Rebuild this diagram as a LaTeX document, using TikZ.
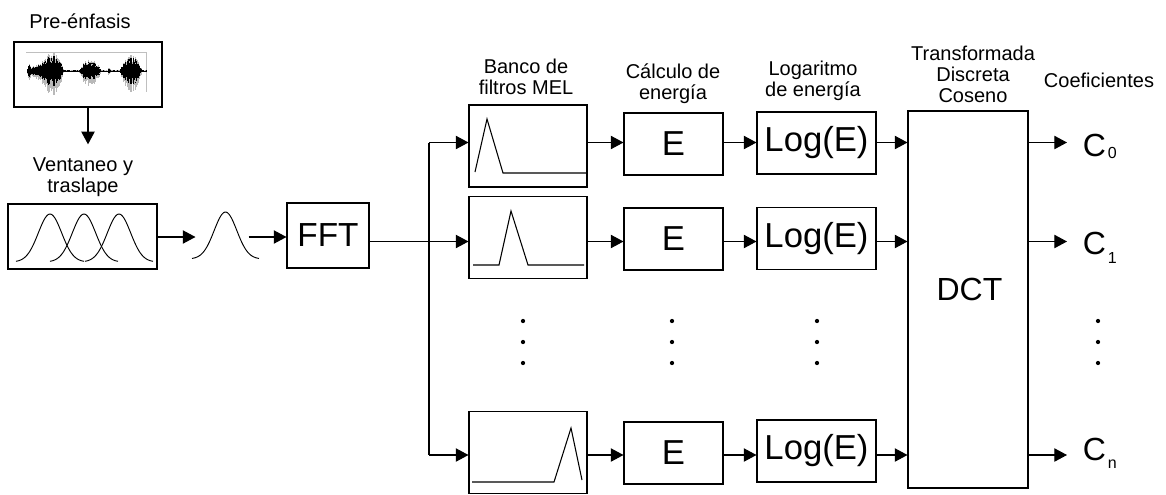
\documentclass[tikz,border=0pt]{standalone}
\usepackage{fontspec}
\setmainfont{Liberation Sans}
\usetikzlibrary{arrows.meta}

\begin{document}
\begin{tikzpicture}[x=0.75pt,y=-0.75pt,>={Triangle[length=9.5pt,width=10pt]},line width=0.8pt,
  blk/.style={draw,inner sep=0pt,font=\fontsize{26}{28}\selectfont},
  lbl/.style={align=center,inner sep=0pt,anchor=north,font=\fontsize{15}{16}\selectfont},
  coef/.style={anchor=base west,inner sep=0pt,inner xsep=11.5pt,font=\fontsize{24}{24}\selectfont},
  filt/.style={blk,minimum width=88.5pt,minimum height=61.5pt},
  ebox/.style={blk,minimum width=74.25pt,minimum height=46.5pt},
  logbox/.style={blk,minimum width=89.25pt,minimum height=46.5pt}]
\useasboundingbox (0,0) rectangle (1166,494);

% pre-enfasis
\node[blk,minimum width=111pt,minimum height=48.75pt] (pre) at (88,74.5) {};
\node[lbl] (prelbl) at (80,13) {Pre-énfasis};
\draw[gray!50,line width=0.3pt] (26,52) -- (146,52) -- (146,92);
\pgfmathsetseed{7}
\foreach \x in {27,27.5,...,146} {
  \pgfmathsetmacro{\env}{20*max(0,1-((\x-52)/12)^2)+8*max(0,1-((\x-37)/7)^2)+8*max(0,1-((\x-29)/2)^2)+13*max(0,1-((\x-90)/11)^2)+17*max(0,1-((\x-131)/11)^2)+3*max(0,1-((\x-109)/1.5)^2)+0.8}
  \pgfmathsetmacro{\ra}{\env*(0.5+0.5*rnd)}
  \draw[gray!55,line width=0.5pt] (\x,{71-0.9*\ra}) -- (\x,{71+1.2*\ra});
  \draw[black,line width=0.55pt] (\x,{71-0.75*\ra}) -- (\x,{71+0.75*\ra});
}

% ventaneo
\node[lbl] (winlbl) at (83,157) {Ventaneo y\\traslape};
\draw[->] (pre.south) -- (pre.south |- winlbl.north) [shorten >=9.5pt];
\node[blk,minimum width=111.75pt,minimum height=48.75pt] (win) at (82.5,236.5) {};
\foreach \c in {50,84,119}
  \draw[line width=0.7pt] plot[domain=-34:34,samples=50,smooth] ({\c+\x},{262-48*exp(-(\x/16.5)^2)});

\node[minimum width=39pt,minimum height=36pt,inner sep=0pt] (gss) at (222,237) {};
\draw[line width=0.7pt] plot[domain=-33.5:33.5,samples=50,smooth] ({225.5+\x},{259-47*exp(-(\x/16)^2)});
\node[blk,font=\fontsize{25}{27}\selectfont,minimum width=61.5pt,minimum height=48.75pt] (fft) at (328,235.5) {FFT};
\draw[->] (win.east |- gss) -- (gss.west);
\draw[->] (gss.east) -- (fft.west |- gss);

% filas
\coordinate (r1) at (429,142.5);
\coordinate (r2) at (429,241.5);
\coordinate (rn) at (429,455);
\draw (fft.east |- r2) -- (r2);
\draw (r1) -- (rn);

\node[filt] (f1) at (528,146) {};
\node[filt] (f2) at (528,237.5) {};
\node[filt] (fn) at (528,452.5) {};
\node[lbl] (filtlbl) at (526,58) {Banco de\\filtros MEL};
\draw (475,172) -- (487,119) -- (503,173) -- (587,173);
\draw (473,265) -- (499,265) -- (511,211) -- (528,265) -- (584,265);
\draw (472,482) -- (554,482) -- (571,428) -- (582,480);

\node[ebox] (e1) at (673.5,144) {E};
\node[ebox] (e2) at (673.5,239) {E};
\node[ebox] (en) at (673.5,453) {E};
\node[lbl] (elbl) at (673,63) {Cálculo de\\energía};

\node[logbox] (l1) at (816.5,143) {Log(E)};
\node[logbox] (l2) at (816.5,238.5) {Log(E)};
\node[logbox] (ln) at (816.5,451) {Log(E)};
\node[lbl] (loglbl) at (813,60) {Logaritmo\\de energía};

\node[blk,minimum width=90pt,minimum height=282.75pt] (dct) at (968,299.5) {};
\node[font=\fontsize{24}{24}\selectfont,inner sep=0pt] (dcttxt) at (969.5,289.5) {DCT};
\node[lbl] (dctlbl) at (973,45) {Transformada\\Discreta\\Coseno};

\node[coef] (c0) at (1067,156) {C\kern1.5pt\raisebox{-2pt}{\fontsize{12}{12}\selectfont 0}};
\node[coef] (c1) at (1067,254) {C\kern1.5pt\raisebox{-7pt}{\fontsize{12}{12}\selectfont 1}};
\node[coef] (cn) at (1067,460) {C\kern1.5pt\raisebox{-6pt}{\fontsize{12}{12}\selectfont n}};
\node[lbl] (coeflbl) at (1099,72) {Coeficientes};

\foreach \r/\f/\e/\l/\c in {r1/f1/e1/l1/c0, r2/f2/e2/l2/c1, rn/fn/en/ln/cn} {
  \draw[->] (\r) -- (\f.west |- \r);
  \draw[->] (\f.east |- \r) -- (\e.west |- \r);
  \draw[->] (\e.east |- \r) -- (\l.west |- \r);
  \draw[->] (\l.east |- \r) -- (dct.west |- \r);
  \draw[->] (dct.east |- \r) -- (\c.west |- \r);
}

% puntos
\foreach \x in {523,672,817,1098}
  \foreach \y in {321,342,363}
    \fill (\x,\y) circle[radius=1.6pt];
\end{tikzpicture}
\end{document}
